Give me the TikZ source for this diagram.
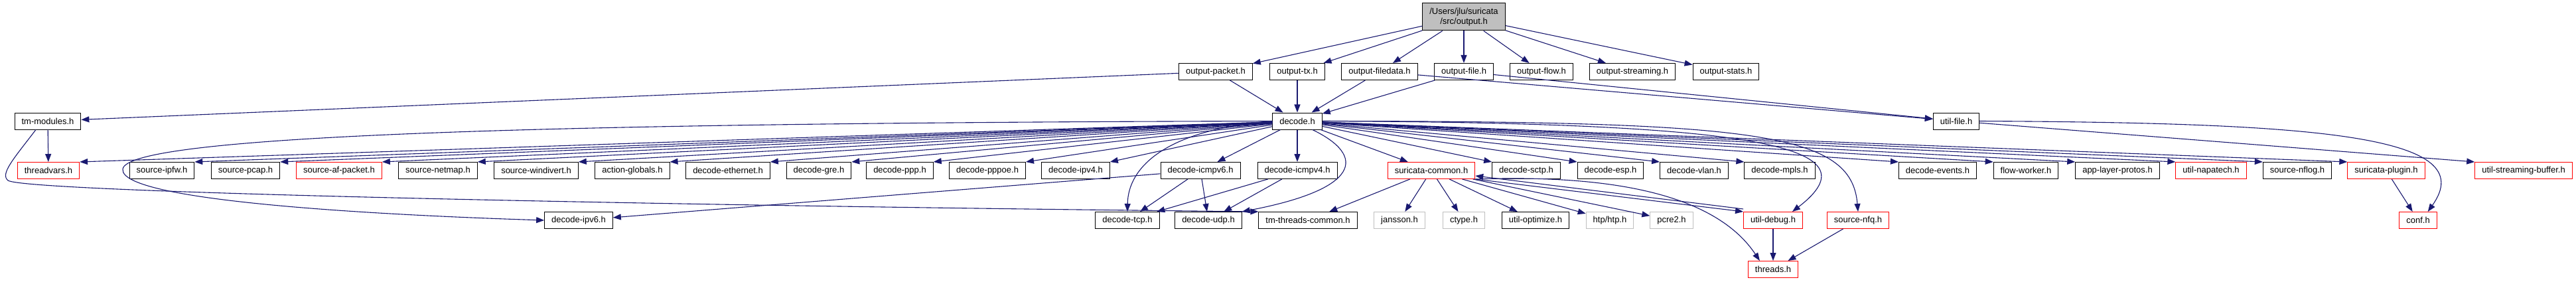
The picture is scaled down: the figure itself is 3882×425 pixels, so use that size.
\documentclass[tikz,border=0pt]{standalone}
\usepackage{fontspec}
\setmainfont{Liberation Sans}
\usetikzlibrary{arrows.meta}
\definecolor{inclblue}{HTML}{191970}
\definecolor{sysgray}{HTML}{BFBFBF}

\begin{document}
\begin{tikzpicture}[x=1pt,y=-1pt,
		hdr/.style={draw=black, line width=1pt, fill=white, inner xsep=10.5pt, inner ysep=0pt, minimum height=25pt, font=\fontsize{13}{15}\selectfont},
		hdrred/.style={hdr, draw=red},
		hdrsys/.style={hdr, draw=sysgray},
		incl/.style={draw=inclblue, line width=1.1pt, -{Triangle[length=12pt,width=9pt]}}]
			\useasboundingbox (0,0) rectangle (3882,425);
			\node[hdr, fill=sysgray, align=center, minimum height=41pt] (output) at (2206,25.5) {/Users/jlu/suricata\\/src/output.h};
			\node[hdr] (outpacket) at (1832,108) {output-packet.h};
			\node[hdr] (outtx) at (1955,108) {output-tx.h};
			\node[hdr] (outfiledata) at (2079,108) {output-filedata.h};
			\node[hdr] (outfile) at (2206,108) {output-file.h};
			\node[hdr] (outflow) at (2323,108) {output-flow.h};
			\node[hdr] (outstreaming) at (2460,108) {output-streaming.h};
			\node[hdr] (outstats) at (2601,108) {output-stats.h};
			\node[hdr] (tmmodules) at (72,182.5) {tm-modules.h};
			\node[hdr] (decode) at (1955,182.5) {decode.h};
			\node[hdr] (utilfile) at (2948,182.5) {util-file.h};
			\node[hdrred] (threadvars) at (73,257) {threadvars.h};
			\node[hdr] (sourceipfw) at (244,257) {source-ipfw.h};
			\node[hdr] (sourcepcap) at (370,257) {source-pcap.h};
			\node[hdrred] (sourceafpacket) at (511,257) {source-af-packet.h};
			\node[hdr] (sourcenetmap) at (660,257) {source-netmap.h};
			\node[hdr] (sourcewindivert) at (808,257) {source-windivert.h};
			\node[hdr] (actionglobals) at (953,257) {action-globals.h};
			\node[hdr] (decodeethernet) at (1097,257) {decode-ethernet.h};
			\node[hdr] (decodegre) at (1234,257) {decode-gre.h};
			\node[hdr] (decodeppp) at (1356,257) {decode-ppp.h};
			\node[hdr] (decodepppoe) at (1488,257) {decode-pppoe.h};
			\node[hdr] (decodeipv4) at (1621,257) {decode-ipv4.h};
			\node[hdr] (decodeicmpv6) at (1809,257) {decode-icmpv6.h};
			\node[hdr] (decodeicmpv4) at (1955,257) {decode-icmpv4.h};
			\node[hdrred] (suricatacommon) at (2157,257) {suricata-common.h};
			\node[hdr] (decodesctp) at (2300,257) {decode-sctp.h};
			\node[hdr] (decodeesp) at (2427,257) {decode-esp.h};
			\node[hdr] (decodevlan) at (2553,257) {decode-vlan.h};
			\node[hdr] (decodempls) at (2682,257) {decode-mpls.h};
			\node[hdr] (decodeevents) at (2920,257) {decode-events.h};
			\node[hdr] (flowworker) at (3053,257) {flow-worker.h};
			\node[hdr] (applayerprotos) at (3191,257) {app-layer-protos.h};
			\node[hdrred] (utilnapatech) at (3332,257) {util-napatech.h};
			\node[hdr] (sourcenflog) at (3462,257) {source-nflog.h};
			\node[hdrred] (suricataplugin) at (3596,257) {suricata-plugin.h};
			\node[hdrred] (utilstreaming) at (3803,257) {util-streaming-buffer.h};
			\node[hdr] (decodeipv6) at (872,332) {decode-ipv6.h};
			\node[hdr] (decodetcp) at (1699,332) {decode-tcp.h};
			\node[hdr] (decodeudp) at (1821,332) {decode-udp.h};
			\node[hdr] (tmthreads) at (1971,332) {tm-threads-common.h};
			\node[hdrsys] (jansson) at (2109,332) {jansson.h};
			\node[hdrsys] (ctype) at (2206,332) {ctype.h};
			\node[hdr] (utiloptimize) at (2314,332) {util-optimize.h};
			\node[hdrsys] (htp) at (2426,332) {htp/htp.h};
			\node[hdrsys] (pcre) at (2519,332) {pcre2.h};
			\node[hdrred] (utildebug) at (2672,332) {util-debug.h};
			\node[hdrred] (sourcenfq) at (2800,332) {source-nfq.h};
			\node[hdrred] (conf) at (3644,332) {conf.h};
			\node[hdrred] (threads) at (2672,406) {threads.h};
			\draw[incl] (output) -- (outpacket);
			\draw[incl] (output) -- (outtx);
			\draw[incl] (output) -- (outfiledata);
			\draw[incl] (output) -- (outfile);
			\draw[incl] (output) -- (outflow);
			\draw[incl] (output) -- (outstreaming);
			\draw[incl] (output) -- (outstats);
			\draw[incl] (outpacket) -- (tmmodules);
			\draw[incl] (outpacket) -- (decode);
			\draw[incl] (outtx) -- (decode);
			\draw[incl] (outfiledata) -- (decode);
			\draw[incl] (outfiledata) -- (utilfile);
			\draw[incl] (outfile) -- (decode);
			\draw[incl] (outfile) -- (utilfile);
			\draw[incl] (tmmodules) -- (threadvars);
			\draw[incl] ([xshift=-18pt]tmmodules.south) .. controls (20,240) and (0,262) .. (12,272) .. controls (40,290) and (1000,310) .. (tmthreads.north west);
			\draw[incl] (decode) -- (threadvars.north east);
			\draw[incl] (decode) -- (sourceipfw.north east);
			\draw[incl] (decode) -- (sourcepcap.north east);
			\draw[incl] (decode) -- (sourceafpacket.north east);
			\draw[incl] (decode) -- (sourcenetmap.north east);
			\draw[incl] (decode) -- (sourcewindivert.north east);
			\draw[incl] (decode) -- (actionglobals.north east);
			\draw[incl] (decode) -- (decodeethernet.north east);
			\draw[incl] (decode) -- (decodegre.north east);
			\draw[incl] (decode) -- (decodeppp.north east);
			\draw[incl] (decode) -- (decodepppoe.north east);
			\draw[incl] (decode) -- (decodeipv4.north east);
			\draw[incl] (decode.west) .. controls (800,185) and (190,205) .. (185,255) .. controls (180,305) and (600,325) .. (decodeipv6.west);
			\draw[incl] (decode.west) .. controls (1760,195) and (1700,250) .. (decodetcp.north);
			\draw[incl] ([xshift=-15pt]decode.south east) .. controls (2060,235) and (2050,285) .. (decodeudp.north east);
			\draw[incl] (decode) -- (decodeicmpv6);
			\draw[incl] (decode) -- (decodeicmpv4);
			\draw[incl] (decode) -- (suricatacommon);
			\draw[incl] (decode) -- (decodesctp.north west);
			\draw[incl] (decode) -- (decodeesp.north west);
			\draw[incl] (decode) -- (decodevlan.north west);
			\draw[incl] (decode) -- (decodempls.north west);
			\draw[incl] (decode) -- (decodeevents.north west);
			\draw[incl] (decode) -- (flowworker.north west);
			\draw[incl] (decode) -- (applayerprotos.north west);
			\draw[incl] (decode) -- (utilnapatech.north west);
			\draw[incl] (decode) -- (sourcenflog.north west);
			\draw[incl] (decode) -- (suricataplugin.north west);
			\draw[incl] (decode.east) .. controls (2650,185) and (2830,220) .. ([xshift=-16pt]utildebug.north east);
			\draw[incl] (decode.east) .. controls (2650,183) and (2790,200) .. (sourcenfq.north);
			\draw[incl] (decodeicmpv6) -- (decodeipv6);
			\draw[incl] (decodeicmpv6) -- (decodetcp);
			\draw[incl] (decodeicmpv6) -- (decodeudp);
			\draw[incl] (decodeicmpv4) -- (decodetcp);
			\draw[incl] (decodeicmpv4) -- (decodeudp);
			\draw[incl] (suricatacommon) -- (tmthreads);
			\draw[incl] (suricatacommon) -- (jansson);
			\draw[incl] (suricatacommon) -- (ctype);
			\draw[incl] (suricatacommon) -- (utiloptimize);
			\draw[incl] (suricatacommon) -- (htp);
			\draw[incl] (suricatacommon) -- (pcre);
			\draw[incl] (suricatacommon.south east) -- (utildebug.north west);
			\draw[incl] ([yshift=4pt]utildebug.north west) -- ([yshift=5pt]suricatacommon.south east);
			\draw[incl] (suricatacommon.south east) .. controls (2450,262) and (2590,300) .. ([xshift=18pt]threads.north west);
			\draw[incl] (utildebug) -- (threads);
			\draw[incl] (sourcenfq) -- (threads);
			\draw[incl] (utilfile.east) .. controls (3500,185) and (3740,205) .. ([xshift=-14pt]conf.north east);
			\draw[incl] (utilfile) -- (utilstreaming.north west);
			\draw[incl] (suricataplugin) -- (conf);
		\end{tikzpicture}
\end{document}
